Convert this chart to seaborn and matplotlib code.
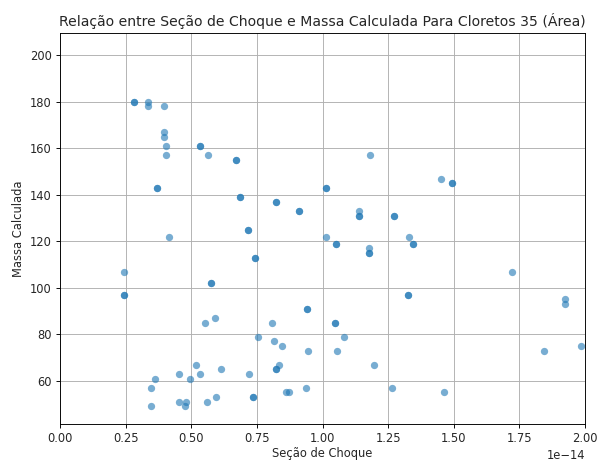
import matplotlib
matplotlib.use("Agg")
import matplotlib.pyplot as plt
import seaborn as sns
import pandas as pd

# Seção de choque (in units of 1e-14) and calculated mass
secao_e14 = [
    0.280, 0.280, 0.336, 0.336, 0.398, 0.398, 0.398, 0.403, 0.403,
    0.535, 0.535, 0.564, 0.670, 0.670, 0.369, 0.369, 0.687, 0.687,
    0.717, 0.717, 0.416, 0.742, 0.742, 0.245, 0.245, 0.245, 0.577, 0.577,
    0.554, 0.590, 0.519, 0.613, 0.535, 0.452, 0.361, 0.495, 0.345,
    0.721, 0.735, 0.735, 0.593, 0.560, 0.454, 0.480, 0.478, 0.345,
    1.180, 1.015, 1.015, 0.822, 0.822, 0.909, 0.909, 1.138, 1.138, 1.138,
    1.272, 1.272, 1.013, 1.051, 1.051, 1.328, 1.343, 1.343, 1.177, 1.177, 1.177,
    1.326, 1.326, 0.940, 0.940, 0.808, 1.047, 1.047, 0.755, 1.082, 0.817,
    0.844, 0.944, 1.057, 0.836, 0.824, 0.824, 1.195, 0.860, 0.871, 0.938,
    1.264, 1.450, 1.495, 1.495, 1.721, 1.924, 1.924, 1.845, 1.985, 1.462,
]
massa = [
    180, 180, 180, 178, 178, 167, 165, 161, 157,
    161, 161, 157, 155, 155, 143, 143, 139, 139,
    125, 125, 122, 113, 113, 107, 97, 97, 102, 102,
    85, 87, 67, 65, 63, 63, 61, 61, 57,
    63, 53, 53, 53, 51, 51, 51, 49, 49,
    157, 143, 143, 137, 137, 133, 133, 133, 131, 131,
    131, 131, 122, 119, 119, 122, 119, 119, 117, 115, 115,
    97, 97, 91, 91, 85, 85, 85, 79, 79, 77,
    75, 73, 73, 67, 65, 65, 67, 55, 55, 57,
    57, 147, 145, 145, 107, 95, 93, 73, 75, 55,
]

x_ticks = [0.00, 0.25, 0.50, 0.75, 1.00, 1.25, 1.50, 1.75, 2.00]

df = pd.DataFrame({"Seção de Choque": [v * 1e-14 for v in secao_e14],
                   "Massa Calculada": massa})

sns.set_style("ticks")
plt.rcParams["font.family"] = ["DejaVu Sans"]

DPI = 83
fig = plt.figure(figsize=(600 / DPI, 461 / DPI), dpi=DPI)
ax = fig.add_axes([0.1, 0.080, 0.875, 0.849])
sns.scatterplot(data=df, x="Seção de Choque", y="Massa Calculada", ax=ax,
                color="#1f77b4", alpha=0.6, s=40, linewidth=0, zorder=3)

ax.set_xlim(0, 2e-14)
ax.set_ylim(41.4, 209.7)
ax.set_xticks([t * 1e-14 for t in x_ticks])
ax.grid(True, color="#b0b0b0", linewidth=0.8)
ax.set_axisbelow(True)
for sp in ax.spines.values():
    sp.set_visible(True)
    sp.set_color("black")
    sp.set_linewidth(0.8)
ax.tick_params(labelsize=10, length=3.5, width=0.8, color="black")
ax.set_xlabel("Seção de Choque", fontsize=10, labelpad=1.5)
ax.set_ylabel("Massa Calculada", fontsize=10)
ax.set_title("Relação entre Seção de Choque e Massa Calculada Para Cloretos 35 (Área)",
             fontsize=12.2)

fig.savefig("out.png", dpi=DPI)
